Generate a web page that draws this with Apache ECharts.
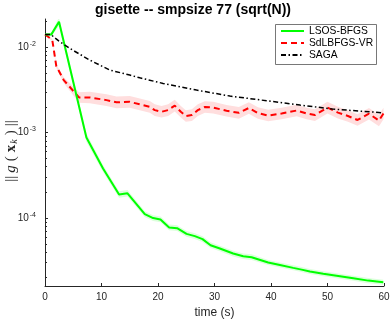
<!DOCTYPE html>
<html>
<head>
<meta charset="utf-8">
<script src="https://cdn.jsdelivr.net/npm/echarts@6/dist/echarts.min.js"></script>
<style>
  * { margin: 0; padding: 0; }
  body { background: #fff; }
</style>
</head>
<body>
<div id="main" style="width: 390px;height: 320px;"></div>
<script>
  // time (s) and ||g(x_k)||
  var greenT = [0, 1.13, 2.48, 7.33, 10.27, 13.11, 14.6, 17.66, 19.13, 20.44, 21.97, 23.38, 25.05, 26.52, 27.88,
    29.3, 30.95, 33.3, 35.08, 36.56, 39.5, 41.58, 43.93, 45.42, 46.89, 49.25, 52.2, 54.56, 57.22, 59.88];
  var greenV = [1.42e-2, 1.42e-2, 2.0e-2, 8.77e-4, 3.81e-4, 1.89e-4, 1.95e-4, 1.11e-4, 1.0e-4, 9.64e-5, 7.77e-5, 7.62e-5, 6.53e-5, 6.14e-5, 5.66e-5,
    4.81e-5, 4.40e-5, 3.84e-5, 3.57e-5, 3.48e-5, 3.01e-5, 2.82e-5, 2.61e-5, 2.49e-5, 2.36e-5, 2.22e-5, 2.08e-5, 1.97e-5, 1.85e-5, 1.77e-5];
  // half width of the shaded band, as a factor
  var greenSpread = [1.02, 1.05, 1.12, 1.12, 1.1, 1.09, 1.09, 1.08, 1.08, 1.08, 1.08, 1.08, 1.08, 1.08, 1.08,
    1.08, 1.08, 1.08, 1.08, 1.08, 1.07, 1.07, 1.07, 1.07, 1.07, 1.07, 1.07, 1.07, 1.07, 1.07];

  var redT = [0, 1.29, 2.0, 3.31, 6.02, 7.92, 10.88, 12.65, 15.0, 16.78, 18.55, 19.43, 20.62, 21.79, 22.97, 24.04, 24.92, 25.99,
    27.05, 28.29, 29.76, 32.13, 34.31, 36.08, 37.68, 39.5, 41.88, 44.53, 46.31, 47.78, 49.99, 51.85, 53.62, 55.31, 57.34, 59.11, 59.91];
  var redV = [1.42e-2, 1.22e-2, 6.04e-3, 4.14e-3, 2.59e-3, 2.59e-3, 2.41e-3, 2.27e-3, 2.30e-3, 2.15e-3, 2.01e-3, 1.84e-3, 1.76e-3, 1.84e-3, 2.08e-3, 1.76e-3, 1.57e-3, 1.61e-3,
    1.84e-3, 2.00e-3, 1.97e-3, 1.81e-3, 1.71e-3, 1.95e-3, 1.70e-3, 1.59e-3, 1.68e-3, 1.82e-3, 1.68e-3, 1.61e-3, 1.97e-3, 1.72e-3, 1.57e-3, 1.41e-3, 1.67e-3, 1.39e-3, 1.68e-3];
  var redSpread = [1.02, 1.03, 1.05, 1.08, 1.15, 1.17, 1.17, 1.17, 1.17, 1.17, 1.17, 1.17, 1.17, 1.17, 1.17, 1.17, 1.17, 1.17,
    1.17, 1.17, 1.17, 1.17, 1.17, 1.17, 1.17, 1.17, 1.17, 1.17, 1.17, 1.17, 1.17, 1.17, 1.17, 1.17, 1.17, 1.17, 1.17];

  var sagaT = [0, 1.0, 2.43, 4.38, 7.92, 11.46, 15.0, 16.78, 20.9, 26.82, 32.72, 39.22, 45.12, 51.02, 59.88];
  var sagaV = [1.42e-2, 1.42e-2, 1.19e-2, 9.73e-3, 7.10e-3, 5.42e-3, 4.74e-3, 4.40e-3, 3.78e-3, 3.16e-3, 2.69e-3, 2.37e-3, 2.11e-3, 1.89e-3, 1.71e-3];

  var names = ['LSOS-BFGS', 'SdLBFGS-VR', 'SAGA'];
  var yMajor = [1e-4, 1e-3, 1e-2];
  var yMinor = [2e-5, 3e-5, 4e-5, 5e-5, 6e-5, 7e-5, 8e-5, 9e-5,
    2e-4, 3e-4, 4e-4, 5e-4, 6e-4, 7e-4, 8e-4, 9e-4,
    2e-3, 3e-3, 4e-3, 5e-3, 6e-3, 7e-3, 8e-3, 9e-3, 2e-2];
  var yMin = 1.6e-5, yMax = 2.15e-2;

  var font = "'Liberation Sans', Helvetica, Arial, sans-serif";
  var serif = "'Liberation Serif', serif";
  var axisColor = '#262626';

  function lg(v) { return Math.log10(v) }
  function pts(t, v) { return t.map(function (x, i) { return [x, lg(v[i])] }) }

  // shaded band drawn as one polygon through the axes' coord mapping
  function band(t, v, s, color) {
    return {
      type: 'custom', silent: true, clip: true,
      data: [[0, lg(yMin)]],
      renderItem: function (params, api) {
        var up = [], lo = [];
        for (var i = 0; i < t.length; i++) {
          up.push(api.coord([t[i], lg(v[i] * s[i])]));
          lo.unshift(api.coord([t[i], lg(v[i] / s[i])]));
        }
        return { type: 'polygon', shape: { points: up.concat(lo) }, style: { fill: color } };
      }
    }
  }

  var myChart = echarts.init(document.getElementById('main'));
  var option = {
    animation: false,
    backgroundColor: '#fff',
    textStyle: { fontFamily: font },
    title: {
      text: 'gisette -- smpsize 77 (sqrt(N))',
      left: 90, top: -2,
      textStyle: { fontSize: 14, fontWeight: 'bold', color: '#000', fontFamily: font }
    },
    legend: {
      data: names,
      orient: 'vertical',
      left: 276, top: 24,
      padding: [2, 3, 2, 4],
      itemGap: 2,
      itemWidth: 23, itemHeight: 12,
      itemStyle: { color: 'rgba(0,0,0,0)', borderWidth: 0, opacity: 0 },
      borderWidth: 0,
      textStyle: { fontSize: 10.3, color: '#000', fontFamily: font }
    },
    graphic: [{
      // legend frame
      type: 'rect', z: 3, silent: true,
      shape: { x: 275.5, y: 24.5, width: 101, height: 40 },
      style: { fill: '#fff', stroke: '#555', lineWidth: 0.8 }
    }, {
      // y-axis title, rotated like the original
      type: 'text', x: 11, y: 151, rotation: Math.PI / 2,
      style: {
        text: '{n|||}{i|g}{n|(}{b|x}{k|k}{n|)}{n|||}',
        align: 'center', verticalAlign: 'middle',
        rich: {
          n: { fontSize: 15, fill: axisColor, fontFamily: serif, padding: [0, 2, 0, 2] },
          i: { fontSize: 15, fill: axisColor, fontStyle: 'italic', fontFamily: serif, padding: [0, 2, 0, 1] },
          b: { fontSize: 15, fill: axisColor, fontWeight: 'bold', fontFamily: serif, padding: [0, 1, 0, 2] },
          k: { fontSize: 10, fill: axisColor, fontStyle: 'italic', fontFamily: serif, padding: [6, 2, 0, 0] }
        }
      }
    }],
    grid: { left: 45, right: 6, top: 19, bottom: 34, containLabel: false, outerBoundsMode: 'none' },
    xAxis: {
      type: 'value', min: 0, max: 60, interval: 10,
      axisLine: { lineStyle: { color: axisColor } },
      axisTick: { inside: true, length: 3, lineStyle: { color: axisColor } },
      axisLabel: { fontSize: 10, color: axisColor, margin: 6 },
      splitLine: { show: false },
      name: 'time (s)', nameLocation: 'middle', nameGap: 20,
      nameTextStyle: { fontSize: 12, color: axisColor }
    },
    yAxis: [{
      type: 'value', min: lg(yMin), max: lg(yMax),
      axisLine: { lineStyle: { color: axisColor } },
      axisTick: { inside: true, length: 3, customValues: yMajor.map(lg), lineStyle: { color: axisColor } },
      axisLabel: {
        customValues: yMajor.map(lg), margin: 9,
        formatter: function (v) { return '{b|10}{s|' + Math.round(v) + '}' },
        rich: {
          b: { fontSize: 10, color: axisColor, fontFamily: font },
          s: { fontSize: 7, color: axisColor, fontFamily: font, padding: [0, 0, 7, 1] }
        }
      },
      splitLine: { show: false }
    }, {
      type: 'value', min: lg(yMin), max: lg(yMax), position: 'left',
      axisLine: { show: false },
      axisTick: { inside: true, length: 2, customValues: yMinor.map(lg), lineStyle: { color: axisColor } },
      axisLabel: { show: false },
      splitLine: { show: false }
    }],
    series: [
      band(redT, redV, redSpread, '#ffdede'),
      band(greenT, greenV, greenSpread, '#dcffdc'),
      {
        name: names[1], type: 'line', data: pts(redT, redV), symbol: 'none', color: '#ff0000',
        lineStyle: { width: 2, type: [6, 4], color: '#ff0000' }
      }, {
        name: names[0], type: 'line', data: pts(greenT, greenV), symbol: 'none', color: '#00ff00',
        lineStyle: { width: 2, color: '#00ff00' }
      }, {
        name: names[2], type: 'line', data: pts(sagaT, sagaV), symbol: 'none', color: '#000',
        lineStyle: { width: 1.5, type: [5, 2.5, 1.5, 2.5], color: '#000' }
      }
    ]
  };
  myChart.setOption(option);
</script>
</body>
</html>
